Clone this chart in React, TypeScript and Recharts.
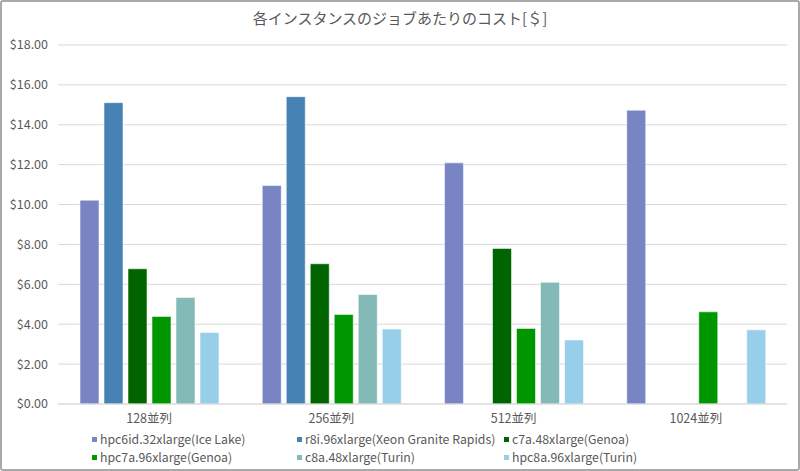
import React from 'react';
import { BarChart, Bar, XAxis, YAxis, CartesianGrid, Legend } from 'recharts';

const categories = ['128並列', '256並列', '512並列', '1024並列'];

const seriesNames = [
  'hpc6id.32xlarge(Ice Lake)',
  'r8i.96xlarge(Xeon Granite Rapids)',
  'c7a.48xlarge(Genoa)',
  'hpc7a.96xlarge(Genoa)',
  'c8a.48xlarge(Turin)',
  'hpc8a.96xlarge(Turin)',
];

const hpc6id = [10.22, 10.95, 12.09, 14.73];
const r8i = [15.11, 15.41, null, null];
const c7a = [6.78, 7.03, 7.8, null];
const hpc7a = [4.39, 4.49, 3.79, 4.62];
const c8a = [5.34, 5.49, 6.1, null];
const hpc8a = [3.59, 3.76, 3.21, 3.72];

const seriesValues = [hpc6id, r8i, c7a, hpc7a, c8a, hpc8a];

const yTicks = [0, 2, 4, 6, 8, 10, 12, 14, 16, 18];

const COLORS = ['#7884C4', '#4782B4', '#006400', '#009600', '#83BAB7', '#97CFEB'];

const FONT = '"Noto Sans CJK JP", "Noto Sans", sans-serif';
const TEXT = '#595959';

const data = categories.map((name, i) => {
  const row: Record<string, string | number | null> = { name };
  seriesNames.forEach((s, j) => {
    row[s] = seriesValues[j][i];
  });
  return row;
});

// legend columns, Excel style 3 x 2
const legendLeft = [92, 297, 504];

const LegendBox = () => (
  <div style={{ position: 'relative', width: 800, height: 44, fontFamily: FONT }}>
    {seriesNames.map((name, i) => (
      <div
        key={name}
        style={{
          position: 'absolute',
          left: legendLeft[i % 3],
          top: 8 + Math.floor(i / 3) * 18,
          height: 18,
          display: 'flex',
          alignItems: 'center',
          fontSize: 12.3,
          color: TEXT,
          whiteSpace: 'nowrap',
          lineHeight: '18px',
        }}
      >
        <span style={{ width: 5, height: 5, background: COLORS[i], marginRight: 3, display: 'inline-block' }} />
        {name}
      </div>
    ))}
  </div>
);

export default function App() {
  return (
    <div style={{ position: 'relative', width: 800, height: 471, background: '#fff', fontFamily: FONT }}>
      <style>{'body{margin:0}'}</style>
      <div
        style={{
          position: 'absolute',
          top: 8,
          left: 0,
          width: 800,
          textAlign: 'center',
          fontSize: 15,
          color: TEXT,
          lineHeight: '20px',
        }}
      >
        各インスタンスのジョブあたりのコスト[＄]
      </div>
      <div style={{ position: 'absolute', top: 0, left: 0 }}>
        <BarChart
          width={800}
          height={471}
          data={data}
          margin={{ top: 45, right: 13, left: 0, bottom: 5 }}
          barSize={19}
          barGap={5}
        >
          <CartesianGrid vertical={false} stroke="#d9d9d9" />
          <XAxis
            dataKey="name"
            axisLine={{ stroke: '#d9d9d9' }}
            tickLine={false}
            height={18}
            tickMargin={4}
            tick={{ fill: TEXT, fontSize: 12.5, fontFamily: FONT }}
          />
          <YAxis
            domain={[0, 18]}
            ticks={yTicks}
            width={58}
            axisLine={false}
            tickLine={false}
            tickSize={0}
            tickMargin={10}
            interval={0}
            tickFormatter={(v: number) => `$${v.toFixed(2)}`}
            tick={{ fill: TEXT, fontSize: 12.5, fontFamily: FONT }}
          />
          <Legend
            verticalAlign="bottom"
            content={() => <LegendBox />}
            wrapperStyle={{ left: 0, width: 800, height: 44 }}
          />
          {seriesNames.map((s, i) => (
            <Bar
              key={s}
              dataKey={s}
              fill={COLORS[i]}
              stroke="rgba(255,255,255,0.55)"
              strokeWidth={1}
              isAnimationActive={false}
            />
          ))}
        </BarChart>
      </div>
      <div
        style={{
          position: 'absolute',
          top: 0,
          left: 0,
          width: 800,
          height: 471,
          boxSizing: 'border-box',
          border: '2px solid #a9a9a9',
          borderRadius: 3,
          pointerEvents: 'none',
        }}
      />
    </div>
  );
}
